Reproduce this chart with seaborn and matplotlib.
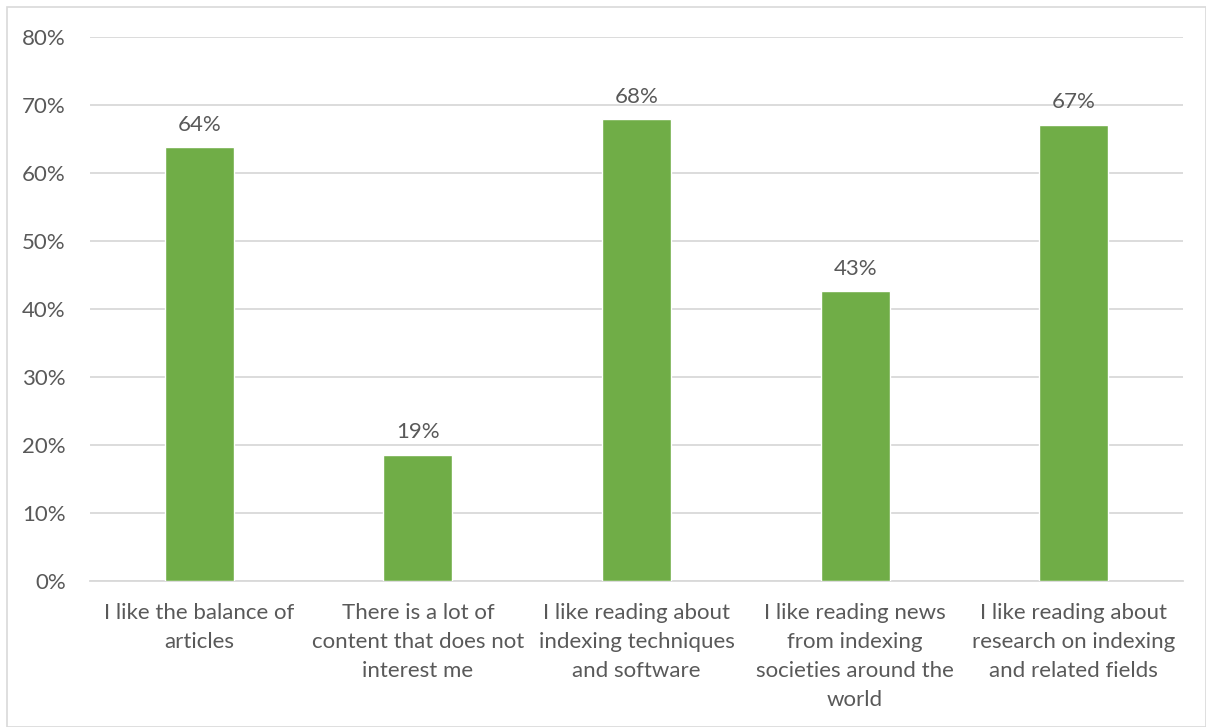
import matplotlib
matplotlib.use("Agg")
import matplotlib.pyplot as plt
import seaborn as sns
import pandas as pd
from matplotlib.patches import Rectangle

categories = [
    "I like the balance of\narticles",
    "There is a lot of\ncontent that does not\ninterest me",
    "I like reading about\nindexing techniques\nand software",
    "I like reading news\nfrom indexing\nsocieties around the\nworld",
    "I like reading about\nresearch on indexing\nand related fields",
]
values = [63.8, 18.6, 67.9, 42.6, 67.1]
y_ticks = [0, 10, 20, 30, 40, 50, 60, 70, 80]
y_tick_labels = [f"{t}%" for t in y_ticks]

sns.set_theme(style="white")
plt.rcParams["font.family"] = ["Lato", "DejaVu Sans"]

text_color = "#595959"
bar_color = "#70AD47"
grid_color = "#D9D9D9"
fs = 16

df = pd.DataFrame({"category": categories, "value": values})

fig = plt.figure(figsize=(12.06, 7.27), dpi=100)
ax = fig.add_axes([90 / 1206, 1 - 581 / 727, (1183 - 90) / 1206, (581 - 37) / 727])

sns.barplot(data=df, x="category", y="value", color=bar_color, width=0.316,
            saturation=1, ax=ax, zorder=3)

ax.set_ylim(0, 80)
ax.set_yticks(y_ticks)
ax.set_yticklabels(y_tick_labels)
ax.set_xlim(-0.5, len(categories) - 0.5)
ax.yaxis.grid(True, color=grid_color, linewidth=1.3, zorder=0)
ax.set_axisbelow(True)
for side in ["top", "right", "left"]:
    ax.spines[side].set_visible(False)
ax.spines["bottom"].set_color(grid_color)
ax.spines["bottom"].set_linewidth(1.3)
ax.set_xlabel("")
ax.set_ylabel("")
ax.tick_params(axis="y", length=0, pad=17.5, labelsize=fs, labelcolor=text_color)
ax.tick_params(axis="x", length=0, pad=16, labelsize=fs, labelcolor=text_color)
for lbl in ax.get_xticklabels():
    lbl.set_linespacing(1.55)
    lbl.set_verticalalignment("top")

for container in ax.containers:
    ax.bar_label(container, labels=[f"{v:.0f}%" for v in values], padding=9,
                 fontsize=fs, color=text_color)

# chart frame
fig.patches.append(Rectangle((7 / 1206, 0), 1 - 7 / 1206, 1 - 7 / 727,
                             transform=fig.transFigure, fill=False,
                             edgecolor=grid_color, linewidth=1.2))

fig.savefig("out.png", dpi=100)
